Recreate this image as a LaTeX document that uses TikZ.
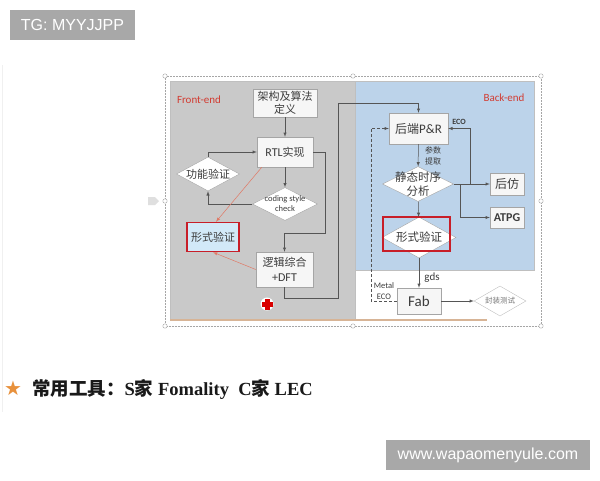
\documentclass[tikz,border=0pt]{standalone}
\usepackage{fontspec}
\setmainfont{Carlito}
\newfontfamily\cjk{Noto Sans CJK SC}
\newfontfamily\tms{Liberation Serif}
\newfontfamily\arl{Liberation Sans}
\newfontfamily\dvs{DejaVu Sans}
\usetikzlibrary{arrows,shapes.geometric}

\definecolor{panelgrey}{RGB}{201,201,201}
\definecolor{panelblue}{RGB}{188,211,234}
\definecolor{boxline}{RGB}{165,165,165}
\definecolor{boxfill}{RGB}{246,246,246}
\definecolor{txtgrey}{RGB}{60,60,60}
\definecolor{labred}{RGB}{210,60,50}
\definecolor{hlred}{RGB}{200,30,40}
\definecolor{hlblue}{RGB}{210,233,248}
\definecolor{flowgrey}{RGB}{85,85,85}
\definecolor{pinkline}{RGB}{225,120,100}
\definecolor{tanline}{RGB}{215,180,150}
\definecolor{wmgrey}{RGB}{168,168,168}
\definecolor{staro}{RGB}{232,145,60}

\newcommand\fsz[2]{\fontsize{#1}{#2}\selectfont}

\tikzset{
  flowbox/.style={draw=boxline, fill=boxfill, inner sep=0pt, align=center, text=txtgrey},
  flowdia/.style={diamond, draw=boxline, fill=white, inner sep=0pt},
  diatext/.style={align=center, text=txtgrey, inner sep=0pt},
  flow/.style={draw=flowgrey, line width=0.5pt, -latex},
  redflow/.style={draw=pinkline, line width=0.5pt, -latex},
  note/.style={text=txtgrey, inner sep=0pt, align=center},
  watermark/.style={fill=wmgrey, text=white, inner sep=0pt, font=\arl\fsz{16}{16}},
  handle/.style={draw=gray!70, fill=white, line width=0.4pt},
}

\begin{document}
\begin{tikzpicture}[x=1pt,y=-1pt]
\fill[white] (0,0) rectangle (600,480);
\useasboundingbox (0,0) rectangle (600,480);
% watermarks
\node[watermark, minimum width=125pt, minimum height=30pt] (tg) at (72.5,25) {TG: MYYJJPP};
\node[watermark, minimum width=204pt, minimum height=30pt] (url) at (488,455) {www.wapaomenyule.com};
\draw[black!6, line width=0.8pt] (2.5,65) -- (2.5,412);
% panels
\fill[panelgrey] (170,81) rectangle (355,320);
\fill[panelblue] (355,81) rectangle (534,270);
\draw[black!25, line width=0.4pt] (170,81) rectangle (355,320);
\draw[black!25, line width=0.4pt] (355,81) rectangle (534,270);
\draw[tanline, line width=1.5pt] (170,320) -- (487,320);
% selection frame and handles
\draw[gray!70, densely dotted, line width=0.5pt] (165,76) rectangle (541,326);
\foreach \px/\py in {165/76,353/76,541/76,165/201,541/201,165/326,353/326,541/326}
  \draw[handle] (\px,\py) circle (2.2pt);
\fill[gray!25] (148,197) -- (155,197) -- (159,201) -- (155,205) -- (148,205) -- cycle;

\node[text=labred, font=\fsz{11}{11}] (fe) at (199,100) {Front-end};
\node[text=labred, font=\fsz{11}{11}] (be) at (504,98) {Back-end};

% front-end flow
\node[flowbox, minimum width=64pt, minimum height=28pt, font=\cjk\fsz{11}{13}] (arch) at (285,103) {架构及算法\\定义};
\node[flowbox, minimum width=56pt, minimum height=30pt, font=\fsz{12}{13}] (rtl) at (285,152) {RTL{\cjk\fsz{11}{13}实现}};
\node[flowdia, minimum width=63pt, minimum height=34pt] (func) at (208,174) {};
\node[diatext, font=\cjk\fsz{11}{13}] (func-t) at (func) {功能验证};
\node[flowdia, minimum width=65pt, minimum height=33pt] (code) at (285,204) {};
\node[diatext, font=\fsz{8.5}{10}] (code-t) at (code) {coding style\\check};
\node[flowbox, fill=hlblue, draw=hlred, line width=1.5pt, minimum width=52pt, minimum height=29pt, font=\cjk\fsz{11}{13}] (fvfront) at (213,237) {形式验证};
\node[flowbox, minimum width=57pt, minimum height=35pt, font=\fsz{12}{15}] (syn) at (284.5,269.5) {{\cjk\fsz{11}{15}逻辑综合}\\+DFT};
% red cross
\fill[white] (267,304) circle (6.5pt);
\fill[red!85!black] (264.5,298.5) rectangle (269.5,309.5);
\fill[red!85!black] (261.5,301.5) rectangle (272.5,306.5);

% back-end flow
\node[flowbox, minimum width=59pt, minimum height=31pt, font=\fsz{13}{14}] (pnr) at (418.5,128.5) {{\cjk\fsz{12}{14}后端}P\&R};
\node[note, font=\cjk\fsz{8}{11}] (para) at (433,155.5) {参数\\提取};
\node[flowdia, minimum width=71pt, minimum height=35pt] (sta) at (418,184) {};
\node[diatext, font=\cjk\fsz{11.5}{14}] (sta-t) at (sta) {静态时序\\分析};
\node[flowbox, minimum width=34pt, minimum height=22pt, font=\cjk\fsz{12}{13}] (post) at (507,184) {后仿};
\node[flowbox, minimum width=34pt, minimum height=21pt, font=\bfseries\fsz{12}{13}] (atpg) at (507,217.5) {ATPG};
\node[flowdia, minimum width=74pt, minimum height=41pt] (fvback) at (419,237.5) {};
\node[diatext, font=\cjk\fsz{11.5}{13}] (fvback-t) at (fvback) {形式验证};
\draw[hlred, line width=1.5pt] (383,217) rectangle (450,251);
\node[flowbox, minimum width=44pt, minimum height=26pt, font=\fsz{15}{15}] (fab) at (419,301) {Fab};
\node[flowdia, draw=boxline!70, minimum width=52pt, minimum height=30pt] (pkg) at (500,301) {};
\node[diatext, text=txtgrey!70, font=\cjk\fsz{7.5}{9}] (pkg-t) at (pkg) {封装测试};
\node[note, font=\fsz{11}{12}] (gds) at (432,278) {gds};
\node[note, font=\bfseries\fsz{8}{9}] (eco) at (459,122) {ECO};
\node[note, font=\fsz{8.5}{11}] (meco) at (384,291.5) {Metal\\ECO};
\coordinate (atpgj) at (460,184);
\coordinate (ecoj) at (470,184);

% connectors, front-end
\draw[flow] (arch) -- (rtl);
\draw[flow] (func.north) |- (rtl.west);
\draw[flow] (rtl) -- (code);
\draw[flow] (code.west) -| (func.south);
\draw[flow] (rtl.east) -| (325,233) -| (syn.north);
\draw[flow] (syn.south) -- ++(0,11) -| (338,103) -| (pnr.north);
\draw[redflow] ([xshift=5pt]rtl.south west) -- ([xshift=3pt]fvfront.north);
\draw[redflow] (syn.west) -- (fvfront.south);
% connectors, back-end
\draw[flow] (pnr) -- (sta);
\draw[flow] (sta.east) -- (post.west);
\draw[flow] (atpgj) |- (atpg.west);
\draw[flow] (ecoj) |- (pnr.east);
\draw[flow] (sta) -- (fvback);
\draw[flow] (fvback) -- (fab);
\draw[flow] (fab) -- (pkg);
\draw[flow, dash pattern=on 3pt off 2pt] (fab.west) -- ++(-26,0) |- (pnr.west);

% tools line
\node[text=staro, font=\dvs\fsz{20}{20}, inner sep=0pt] (star) at (13,388) {★};
\node[anchor=west, inner sep=0pt, text=black!90, font=\tms\bfseries\fsz{18.5}{18.5}] (tools) at (32,389)
  {{\cjk 常用工具：}S{\cjk 家} Fomality\ \ C{\cjk 家} LEC};
\end{tikzpicture}
\end{document}
